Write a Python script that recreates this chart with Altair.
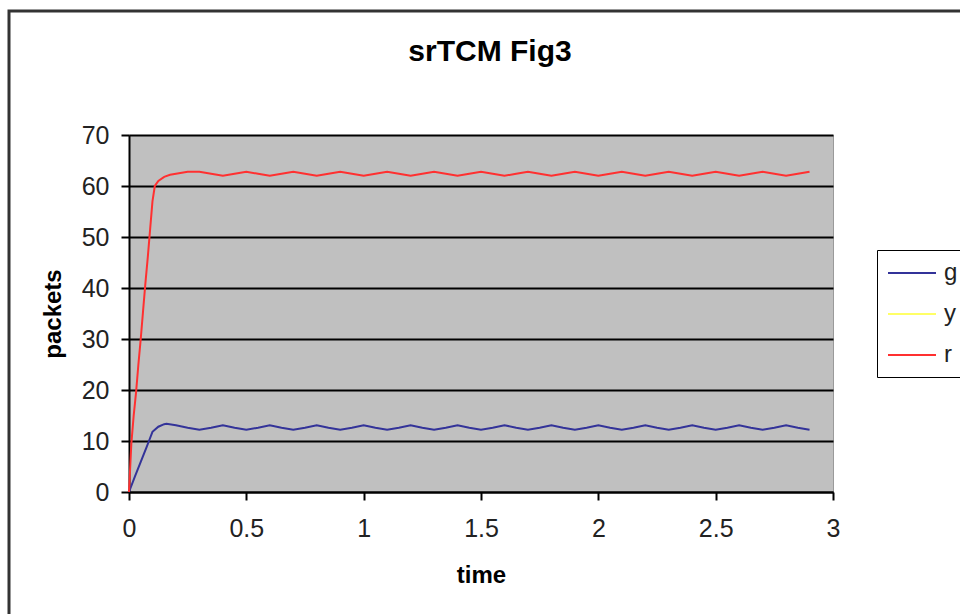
import altair as alt
import pandas as pd

# ---- data ----
series_names = ["g", "y", "r"]
series_colors = ["#333399", "#ffff66", "#ff3030"]

g_time = [0, 0.025, 0.05, 0.075, 0.085, 0.1, 0.125, 0.15, 0.16, 0.2, 0.25,
          0.3, 0.35, 0.4, 0.45, 0.5, 0.55, 0.6, 0.65, 0.7, 0.75, 0.8, 0.85,
          0.9, 0.95, 1.0, 1.05, 1.1, 1.15, 1.2, 1.25, 1.3, 1.35, 1.4, 1.45,
          1.5, 1.55, 1.6, 1.65, 1.7, 1.75, 1.8, 1.85, 1.9, 1.95, 2.0, 2.05,
          2.1, 2.15, 2.2, 2.25, 2.3, 2.35, 2.4, 2.45, 2.5, 2.55, 2.6, 2.65,
          2.7, 2.75, 2.8, 2.85, 2.9]
g_packets = [0, 3.0, 5.9, 8.8, 10.0, 11.8, 12.8, 13.3, 13.4, 13.1, 12.6,
             12.2, 12.6, 13.1, 12.6, 12.2, 12.6, 13.1, 12.6, 12.2, 12.6, 13.1, 12.6,
             12.2, 12.6, 13.1, 12.6, 12.2, 12.6, 13.1, 12.6, 12.2, 12.6, 13.1, 12.6,
             12.2, 12.6, 13.1, 12.6, 12.2, 12.6, 13.1, 12.6, 12.2, 12.6, 13.1, 12.6,
             12.2, 12.6, 13.1, 12.6, 12.2, 12.6, 13.1, 12.6, 12.2, 12.6, 13.1, 12.6,
             12.2, 12.6, 13.1, 12.6, 12.2]

r_time = [0, 0.01, 0.02, 0.03, 0.04, 0.05, 0.06, 0.07, 0.08, 0.09, 0.1,
          0.11, 0.125, 0.15, 0.175, 0.2, 0.25,
          0.3, 0.35, 0.4, 0.45, 0.5, 0.55, 0.6, 0.65, 0.7, 0.75, 0.8, 0.85,
          0.9, 0.95, 1.0, 1.05, 1.1, 1.15, 1.2, 1.25, 1.3, 1.35, 1.4, 1.45,
          1.5, 1.55, 1.6, 1.65, 1.7, 1.75, 1.8, 1.85, 1.9, 1.95, 2.0, 2.05,
          2.1, 2.15, 2.2, 2.25, 2.3, 2.35, 2.4, 2.45, 2.5, 2.55, 2.6, 2.65,
          2.7, 2.75, 2.8, 2.85, 2.9]
r_packets = [0, 9.5, 15.0, 19.5, 25.0, 30.0, 35.5, 41.0, 46.0, 51.5, 57.0,
             60.0, 61.0, 61.8, 62.2, 62.4, 62.8,
             62.8, 62.4, 62.0, 62.4, 62.8, 62.4, 62.0, 62.4, 62.8, 62.4, 62.0, 62.4,
             62.8, 62.4, 62.0, 62.4, 62.8, 62.4, 62.0, 62.4, 62.8, 62.4, 62.0, 62.4,
             62.8, 62.4, 62.0, 62.4, 62.8, 62.4, 62.0, 62.4, 62.8, 62.4, 62.0, 62.4,
             62.8, 62.4, 62.0, 62.4, 62.8, 62.4, 62.0, 62.4, 62.8, 62.4, 62.0, 62.4,
             62.8, 62.4, 62.0, 62.4, 62.8]

x_ticks = [0, 0.5, 1, 1.5, 2, 2.5, 3]
y_ticks = [0, 10, 20, 30, 40, 50, 60, 70]

df = pd.concat([
    pd.DataFrame({"time": g_time, "packets": g_packets, "series": "g", "order": range(len(g_time))}),
    pd.DataFrame({"time": r_time, "packets": r_packets, "series": "r", "order": range(len(r_time))}),
], ignore_index=True)

FONT = "Liberation Sans"

lines = alt.Chart(df).mark_line(strokeWidth=2, clip=False).encode(
    x=alt.X("time:Q",
            scale=alt.Scale(domain=[0, 3], nice=False, zero=False),
            axis=alt.Axis(values=x_ticks, format="~g", title="time", grid=False,
                          labelFlush=False,
                          labelFontSize=25, labelFont=FONT, labelColor="#222222",
                          labelPadding=16, titleFont=FONT, titleFontSize=24,
                          titleFontWeight="bold", titlePadding=22, titleColor="#000000")),
    y=alt.Y("packets:Q",
            scale=alt.Scale(domain=[0, 70], nice=False),
            axis=alt.Axis(values=y_ticks, title="packets", grid=True,
                          labelFontSize=25, labelFont=FONT, labelColor="#222222",
                          labelPadding=12, titleFont=FONT, titleFontSize=24,
                          titleFontWeight="bold", titlePadding=16, titleColor="#000000")),
    color=alt.Color("series:N",
                    scale=alt.Scale(domain=series_names, range=series_colors),
                    legend=alt.Legend(title=None, orient="none", legendX=748, legendY=115,
                                      symbolType="M-2,0H2", symbolSize=576,
                                      symbolStrokeWidth=2, symbolOffset=12,
                                      labelOffset=19, labelFont=FONT, labelFontSize=24,
                                      labelColor="#222222",
                                      rowPadding=16, padding=10,
                                      strokeColor="#000000", fillColor="#ffffff")),
    detail="series:N",
    order="order:Q",
)

frame = alt.Chart(pd.DataFrame({"a": [0]})).mark_rect(
    filled=False, stroke="#333333", strokeWidth=3, clip=False
).encode(x=alt.value(-120), x2=alt.value(840), y=alt.value(-124), y2=alt.value(490))

chart = alt.layer(frame, lines).properties(
    width=704, height=357,
    title=alt.TitleParams("srTCM Fig3", font=FONT, fontSize=30, fontWeight="bold",
                          anchor="middle", baseline="alphabetic", offset=-81, dx=9,
                          color="#000000"),
    autosize=alt.AutoSizeParams(type="none"),
    padding={"left": 129, "top": 135, "right": 127, "bottom": 122},
    background="#ffffff",
).configure_view(
    fill="#c0c0c0", stroke="#9a9a9a", strokeWidth=1
).configure_axis(
    domainColor="#000000", domainWidth=2, tickColor="#000000", tickWidth=2,
    tickSize=8, gridColor="#000000", gridWidth=2, gridOpacity=1
)

chart.save("out.html", embed_options={"renderer": "svg", "actions": False})
